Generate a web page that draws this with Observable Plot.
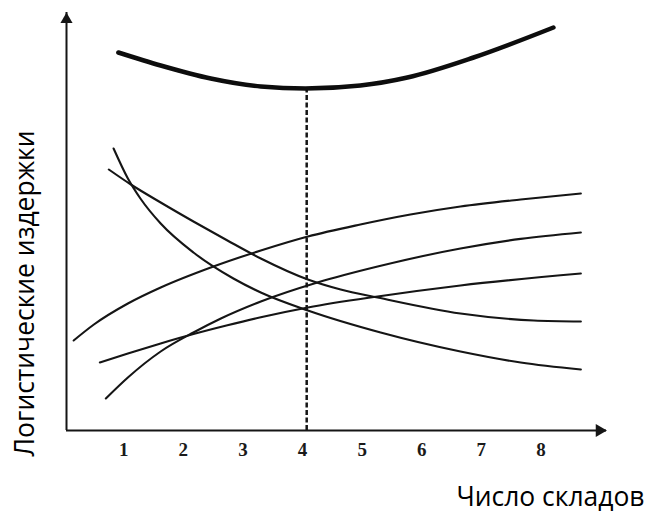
<!DOCTYPE html>
<html><head><meta charset="utf-8">
<script src="https://cdn.jsdelivr.net/npm/d3@7"></script>
<script src="https://cdn.jsdelivr.net/npm/@observablehq/plot@0.6"></script>
<style>html,body{margin:0;padding:0;background:#fff}</style>
</head><body><div id="chart"></div>
<script>
// ---- data (arbitrary cost units) ----
const xTicks = [1, 2, 3, 4, 5, 6, 7, 8];
const xLabel = "Число складов";
const yLabel = "Логистические издержки";
const optimum = 4.07;

const totalX = [0.91, 1.62, 2.46, 3.30, 4.05, 4.97, 5.76, 6.87, 8.21];
const totalY = [94.5, 91.25, 88, 86, 85.5, 86.25, 88.25, 93.25, 100.75];

const steepDownX = [0.83, 1.07, 1.28, 1.62, 2.17, 2.84, 3.30, 4.09, 5.31, 6.65, 7.66, 8.67];
const steepDownY = [70.5, 63, 58, 51.75, 44.5, 38, 34.5, 30, 24.5, 19.75, 17, 15.25];

const flatDownX = [0.75, 1.12, 1.62, 2.17, 2.74, 3.30, 4.09, 4.64, 5.26, 6.65, 7.88, 8.67];
const flatDownY = [65.25, 61.5, 57, 52.25, 47.5, 43, 37.75, 35.25, 33.25, 29.25, 27.5, 27.25];

const topUpX = [0.16, 0.50, 1.07, 1.62, 2.46, 3.30, 4.09, 4.97, 5.81, 6.65, 7.66, 8.67];
const topUpY = [22.5, 26.5, 31.75, 35.75, 40.75, 45, 48.5, 51.5, 54, 56, 57.75, 59.25];

const midUpX = [0.60, 1.07, 1.62, 2.17, 2.74, 3.30, 4.09, 5.26, 6.65, 8.67];
const midUpY = [17, 19.25, 21.75, 24.1, 26.3, 28.3, 30.75, 33.5, 36.25, 39.25];

const lowUpX = [0.70, 1.07, 1.62, 2.17, 2.63, 3.30, 4.25, 5.26, 6.65, 7.66, 8.67];
const lowUpY = [8, 13.25, 19.75, 24.5, 28, 32.25, 37, 41, 45.5, 47.9, 49.5];

// ---- build tables ----
const seriesList = [
  ["steepDown", steepDownX, steepDownY],
  ["flatDown", flatDownX, flatDownY],
  ["topUp", topUpX, topUpY],
  ["midUp", midUpX, midUpY],
  ["lowUp", lowUpX, lowUpY]
];
const thinRows = seriesList.flatMap(([name, xs, ys]) => xs.map((x, i) => ({series: name, x, y: ys[i]})));
const totalRows = totalX.map((x, i) => ({x, y: totalY[i]}));

const xDomain = [0.04, 9.1];
const yDomain = [0, 104.5];
const ink = "#151515";

function fitSize(text, family, target) {
  const c = document.createElement("canvas").getContext("2d");
  c.font = `100px ${family}`;
  return 100 * target / c.measureText(text).width;
}
const labelFont = "'Open Sans', sans-serif";
const fs = (fitSize(yLabel, labelFont, 337) + fitSize(xLabel, labelFont, 182)) / 2;

const chart = Plot.plot({
  width: 650,
  height: 513,
  marginLeft: 66,
  marginRight: 44,
  marginTop: 12,
  marginBottom: 83,
  x: {domain: xDomain, axis: null},
  y: {domain: yDomain, axis: null},
  marks: [
    // axes
    Plot.ruleX([xDomain[0]], {y1: yDomain[0], y2: yDomain[1], stroke: ink, strokeWidth: 2}),
    Plot.ruleY([yDomain[0]], {x1: xDomain[0], x2: xDomain[1], stroke: ink, strokeWidth: 2}),
    Plot.dot([0], {x: xDomain[0], y: yDomain[1], symbol: "triangle", r: 4.5, fill: ink, stroke: null, dy: 7}),
    Plot.dot([0], {x: xDomain[1], y: yDomain[0], symbol: "triangle", r: 4.8, fill: ink, stroke: null, rotate: 90, dx: -7}),
    // tick labels
    Plot.text(xTicks, {x: d => d, text: d => String(d), frameAnchor: "bottom", lineAnchor: "top", dy: 12,
      fontSize: 19, fontWeight: "bold", fontFamily: "'Liberation Serif', serif", fill: "#1a1a1a"}),
    // optimum line
    Plot.ruleX([optimum], {y1: yDomain[0], y2: d3.min(totalY), stroke: ink, strokeWidth: 2.5, strokeDasharray: "5,2.5"}),
    // component cost curves
    Plot.line(thinRows, {x: "x", y: "y", z: "series", curve: "monotone-x", stroke: ink, strokeWidth: 2.1}),
    // total cost curve
    Plot.line(totalRows, {x: "x", y: "y", curve: "monotone-x", stroke: "#0d0d0d", strokeWidth: 4.5}),
    // axis titles
    Plot.text([yLabel], {text: d => d, frameAnchor: "left", textAnchor: "middle", lineAnchor: "middle", rotate: -90,
      dx: -41, dy: 72, fontSize: fs, fontFamily: labelFont, fill: "#000"}),
    Plot.text([xLabel], {text: d => d, frameAnchor: "bottom-right", textAnchor: "end", lineAnchor: "middle",
      dx: 38, dy: 67, fontSize: fs, fontFamily: labelFont, fill: "#000"})
  ]
});
document.getElementById("chart").append(chart);
</script>
</body></html>
